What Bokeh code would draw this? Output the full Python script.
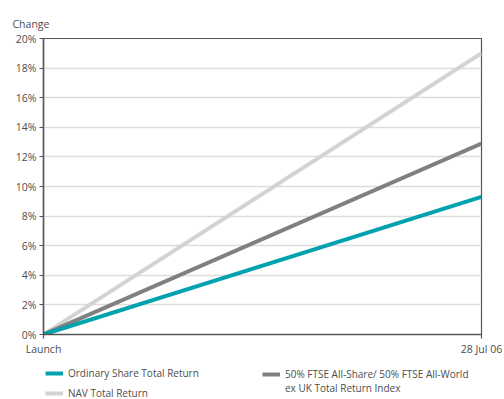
from bokeh.plotting import figure
from bokeh.models import Legend, LegendItem, FixedTicker, Range1d
from bokeh.layouts import column
from bokeh.embed import file_html
from bokeh.resources import INLINE

# Data
x_positions = [0, 1]
x_labels = ["Launch", "28 Jul 06"]
ordinary_share = [0.0, 9.3]
nav_total = [0.0, 19.0]
ftse_index = [0.0, 12.9]
y_ticks = [0, 2, 4, 6, 8, 10, 12, 14, 16, 18, 20]
series_names = ["Ordinary Share Total Return", "NAV Total Return",
                "50% FTSE All-Share/ 50% FTSE All-World", "ex UK Total Return Index"]

FONT = "Open Sans"
TXT = "#4d4d4d"
C_ORD, C_NAV, C_FTSE = "#00a2b0", "#d3d3d3", "#808080"

p = figure(width=504, height=358, output_backend="svg", toolbar_location=None,
           x_range=Range1d(0, 1), y_range=Range1d(0, 20),
           min_border_left=43, min_border_right=23, min_border_top=38, min_border_bottom=24)

p.title.text = "Change"
p.title.align = "left"
p.title.offset = -31
p.title.text_font = FONT
p.title.text_font_size = "10.5px"
p.title.text_font_style = "normal"
p.title.text_color = TXT
p.title.standoff = 16

p.outline_line_color = "#555555"
p.outline_line_width = 1.2
p.xgrid.grid_line_color = None
p.ygrid.grid_line_color = "#dddddd"
p.ygrid.grid_line_width = 1.5

p.yaxis.ticker = FixedTicker(ticks=y_ticks)
p.yaxis.major_label_overrides = {t: f"{t}%" for t in y_ticks}
p.xaxis.ticker = FixedTicker(ticks=x_positions)
p.xaxis.major_label_overrides = {x: l for x, l in zip(x_positions, x_labels)}

for ax in (p.xaxis[0], p.yaxis[0]):
    ax.axis_line_color = "#555555"
    ax.axis_line_width = 1.5
    ax.major_tick_line_color = "#555555"
    ax.major_tick_line_width = 1.2
    ax.major_tick_in = 0
    ax.major_tick_out = 4
    ax.minor_tick_line_color = None
    ax.major_label_text_font = FONT
    ax.major_label_text_font_size = "10.5px"
    ax.major_label_text_color = TXT
    ax.major_label_standoff = 3

p.line(x_positions, nav_total, line_color=C_NAV, line_width=4)
p.line(x_positions, ftse_index, line_color=C_FTSE, line_width=4)
p.line(x_positions, ordinary_share, line_color=C_ORD, line_width=4)

# Legend area (its frame is aligned with the chart's frame by the column layout)
q = figure(width=504, height=41, output_backend="svg", toolbar_location=None,
           x_range=Range1d(0, 1), y_range=Range1d(0, 1),
           min_border=0, outline_line_color=None)
q.axis.visible = False
q.grid.visible = False

# single-point proxies: nothing visible is drawn, they only feed the legend swatches
d_ord = q.line(x_positions[:1], ordinary_share[:1], line_color=C_ORD, line_width=4)
d_nav = q.line(x_positions[:1], nav_total[:1], line_color=C_NAV, line_width=4)
d_ftse = q.line(x_positions[:1], ftse_index[:1], line_color=C_FTSE, line_width=4)
d_none = q.line(x_positions[:1], ftse_index[:1], line_color=C_FTSE, line_width=4, line_alpha=0)

def style(leg, spacing):
    leg.label_text_font = FONT
    leg.label_text_font_size = "10px"
    leg.label_text_color = TXT
    leg.glyph_width = 18
    leg.glyph_height = 10
    leg.label_height = 10
    leg.label_standoff = 5
    leg.spacing = spacing
    leg.padding = 0
    leg.margin = 0
    leg.border_line_color = None
    leg.background_fill_alpha = 0

leg1 = Legend(items=[LegendItem(label=series_names[0], renderers=[d_ord]),
                     LegendItem(label=series_names[1], renderers=[d_nav])],
              location=(2, -1))
leg2 = Legend(items=[LegendItem(label=series_names[2], renderers=[d_ftse]),
                     LegendItem(label=series_names[3], renderers=[d_none])],
              location=(219, 4))
style(leg1, 6)
style(leg2, 0)
q.add_layout(leg1)
q.add_layout(leg2)

layout = column(p, q, spacing=0)
open("out.html", "w").write(file_html(layout, INLINE))
